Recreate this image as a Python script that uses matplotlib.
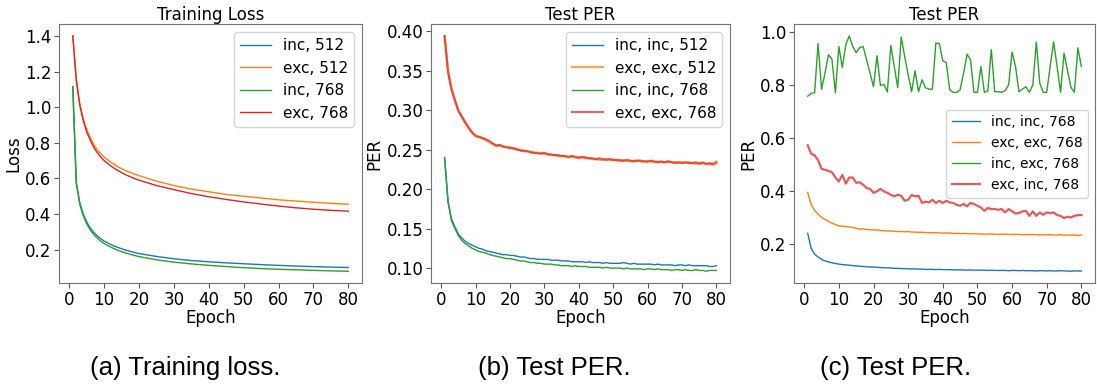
"""Training loss / test PER curves for inc/exc layers (three panels)."""
import numpy as np
import matplotlib
matplotlib.use('Agg')
import matplotlib.pyplot as plt
from matplotlib.ticker import MultipleLocator


# --- (a) training loss, read at selected epochs ---
loss_epochs = [1, 2, 3, 4, 5, 6, 7, 8, 9, 10, 12, 14, 16, 18, 20, 25, 30, 35,
               40, 45, 50, 55, 60, 65, 70, 75, 80]
loss_inc_512 = [1.115, 0.58, 0.465, 0.40, 0.355, 0.322, 0.298, 0.278, 0.262, 0.248,
                0.228, 0.212, 0.199, 0.188, 0.178, 0.162, 0.149, 0.139, 0.132, 0.126,
                0.121, 0.116, 0.112, 0.108, 0.105, 0.102, 0.100]
loss_exc_512 = [1.40, 1.16, 1.02, 0.935, 0.875, 0.83, 0.79, 0.76, 0.738, 0.72,
                0.69, 0.665, 0.645, 0.63, 0.615, 0.585, 0.56, 0.54, 0.525, 0.51,
                0.50, 0.49, 0.48, 0.473, 0.466, 0.46, 0.455]
loss_inc_768 = [1.115, 0.57, 0.455, 0.39, 0.345, 0.31, 0.285, 0.265, 0.248, 0.234,
                0.213, 0.196, 0.182, 0.171, 0.161, 0.143, 0.13, 0.12, 0.112, 0.105,
                0.099, 0.094, 0.090, 0.087, 0.084, 0.081, 0.079]
loss_exc_768 = [1.40, 1.15, 1.01, 0.925, 0.86, 0.815, 0.775, 0.745, 0.72, 0.70,
                0.668, 0.643, 0.622, 0.605, 0.59, 0.56, 0.537, 0.515, 0.497, 0.482,
                0.468, 0.456, 0.445, 0.435, 0.427, 0.421, 0.416]

# --- (b)/(c) test PER, one value per epoch 1..80 ---
per_inc_inc_512 = [
    .240, .185, .162, .152, .143, .138, .134, .131, .129, .127,
    .125, .124, .122, .121, .120, .119, .118, .117, .117, .116,
    .116, .115, .114, .114, .113, .112, .112, .111, .111, .111,
    .111, .110, .110, .110, .109, .109, .109, .108, .108, .108,
    .108, .107, .108, .107, .107, .107, .106, .107, .106, .106,
    .106, .106, .107, .106, .105, .106, .105, .105, .105, .105,
    .105, .104, .105, .104, .104, .104, .104, .103, .104, .104,
    .103, .104, .103, .103, .103, .103, .103, .102, .102, .103]
per_exc_exc_512 = [
    .393, .350, .328, .313, .300, .291, .283, .277, .271, .268,
    .266, .264, .262, .259, .257, .255, .255, .254, .253, .253,
    .251, .251, .249, .249, .248, .246, .246, .245, .245, .245,
    .244, .243, .243, .242, .242, .241, .240, .241, .240, .239,
    .240, .239, .239, .238, .238, .237, .237, .238, .237, .237,
    .236, .237, .236, .236, .235, .236, .236, .235, .235, .235,
    .235, .234, .235, .234, .234, .235, .234, .234, .233, .234,
    .233, .234, .233, .232, .233, .234, .232, .231, .233, .235]
per_inc_inc_768 = [
    .239, .183, .160, .150, .141, .135, .131, .128, .125, .123,
    .121, .120, .119, .117, .116, .115, .114, .113, .112, .112,
    .111, .110, .109, .109, .108, .107, .107, .106, .106, .105,
    .105, .105, .104, .104, .103, .103, .103, .102, .103, .102,
    .102, .102, .101, .101, .101, .101, .100, .101, .100, .100,
    .100, .100, .099, .100, .099, .099, .099, .099, .098, .099,
    .099, .098, .099, .098, .098, .098, .097, .098, .098, .097,
    .098, .097, .097, .098, .097, .097, .096, .097, .097, .097]
per_exc_exc_768 = [
    .394, .348, .326, .312, .299, .292, .285, .278, .272, .267,
    .266, .265, .263, .261, .258, .255, .256, .254, .253, .252,
    .252, .250, .249, .248, .248, .247, .246, .246, .245, .246,
    .244, .244, .243, .243, .242, .242, .241, .242, .241, .240,
    .241, .240, .239, .239, .238, .239, .238, .237, .238, .237,
    .237, .236, .236, .237, .236, .235, .236, .236, .235, .235,
    .236, .235, .234, .235, .234, .235, .234, .233, .234, .233,
    .234, .233, .233, .234, .232, .233, .232, .233, .231, .233]
per_inc_exc_768 = [
    .757, .768, .770, .956, .783, .845, .914, .897, .770, .945,
    .865, .952, .985, .945, .922, .941, .945, .895, .844, .793,
    .910, .797, .802, .773, .949, .869, .789, .981, .907, .838,
    .774, .853, .774, .819, .789, .784, .783, .958, .956, .891,
    .884, .781, .772, .771, .781, .844, .916, .895, .772, .772,
    .869, .772, .777, .933, .774, .774, .772, .778, .800, .924,
    .869, .774, .784, .793, .772, .800, .962, .806, .772, .772,
    .870, .962, .869, .772, .920, .855, .790, .772, .940, .869]
per_exc_inc_768 = [
    .572, .540, .534, .515, .483, .479, .475, .470, .450, .435,
    .460, .427, .450, .450, .430, .432, .423, .410, .407, .392,
    .398, .407, .398, .392, .385, .379, .385, .381, .362, .366,
    .384, .379, .381, .354, .359, .356, .366, .354, .362, .354,
    .362, .356, .354, .347, .343, .350, .341, .354, .350, .343,
    .337, .324, .335, .331, .331, .328, .331, .318, .331, .322,
    .314, .316, .322, .324, .305, .322, .305, .318, .309, .318,
    .316, .318, .308, .305, .297, .302, .299, .305, .308, .308]

captions = ['(a) Training loss.', '(b) Test PER.', '(c) Test PER.']

C_BLUE, C_ORANGE, C_GREEN, C_RED = '#1f77b4', '#ff7f0e', '#2ca02c', '#d62728'


def style(ax, title, ylabel):
    ax.set_title(title, fontsize=12, pad=3)
    ax.set_xlabel('Epoch', fontsize=12, labelpad=0)
    ax.set_ylabel(ylabel, fontsize=12, labelpad=2)
    ax.tick_params(labelsize=12, length=3.5, width=0.8, color='0.35', pad=2)
    ax.set_xticks(range(0, 81, 10))
    for s in ax.spines.values():
        s.set_color('0.45')


def main():
    plt.rcParams['font.family'] = ['DejaVu Sans']
    fig = plt.figure(figsize=(10.97, 3.89), dpi=100)

    ep = np.arange(1, 81)

    ax1 = fig.add_axes([0.0538, 0.2725, 0.2762, 0.6655])
    ax1.plot(loss_epochs, loss_inc_512, color=C_BLUE, lw=1.0, label='inc, 512')
    ax1.plot(loss_epochs, loss_exc_512, color=C_ORANGE, lw=1.0, label='exc, 512')
    ax1.plot(loss_epochs, loss_inc_768, color=C_GREEN, lw=1.0, label='inc, 768')
    ax1.plot(loss_epochs, loss_exc_768, color=C_RED, lw=1.0, label='exc, 768')
    style(ax1, 'Training Loss', 'Loss')
    ax1.yaxis.set_major_locator(MultipleLocator(0.2))
    ax1.legend(loc='upper right', fontsize=11)

    ax2 = fig.add_axes([0.3929, 0.2725, 0.2726, 0.6655])
    ax2.plot(ep, per_inc_inc_512, color=C_BLUE, lw=1.0, label='inc, inc, 512')
    ax2.plot(ep, per_exc_exc_512, color=C_ORANGE, lw=1.6, alpha=0.7, label='exc, exc, 512')
    ax2.plot(ep, per_inc_inc_768, color=C_GREEN, lw=1.0, label='inc, inc, 768')
    ax2.plot(ep, per_exc_exc_768, color=C_RED, lw=1.6, alpha=0.7, label='exc, exc, 768')
    style(ax2, 'Test PER', 'PER')
    ax2.legend(loc='upper right', fontsize=11)

    ax3 = fig.add_axes([0.7238, 0.2725, 0.2744, 0.6655])
    ax3.plot(ep, per_inc_inc_768, color=C_BLUE, lw=1.0, label='inc, inc, 768')
    ax3.plot(ep, per_exc_exc_768, color=C_ORANGE, lw=1.0, label='exc, exc, 768')
    ax3.plot(ep, per_inc_exc_768, color=C_GREEN, lw=1.0, label='inc, exc, 768')
    ax3.plot(ep, per_exc_inc_768, color=C_RED, lw=1.6, alpha=0.75, label='exc, inc, 768')
    style(ax3, 'Test PER', 'PER')
    ax3.legend(loc='center right', fontsize=10)

    for x, txt in zip([0.169, 0.505, 0.816], captions):
        fig.text(x, 0.054, txt, ha='center', va='center', fontsize=18.5,
                 family=['Liberation Sans', 'DejaVu Sans'])

    fig.savefig('out.png', dpi=100)


if __name__ == '__main__':
    main()
